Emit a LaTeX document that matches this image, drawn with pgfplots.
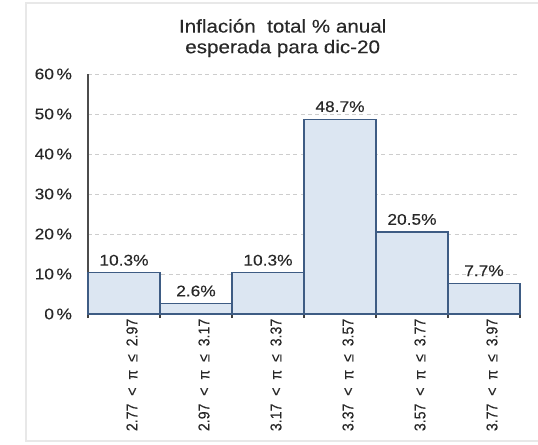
\documentclass[border=0pt]{standalone}
\usepackage{fontspec}
\setmainfont{Liberation Sans}[FakeStretch=1.12, FakeBold=0.25]
\newfontfamily\rotfont{Liberation Sans}[FakeStretch=0.9, FakeBold=0.25]
\usepackage{pgfplots}
\pgfplotsset{compat=1.18, /pgf/number format/assume math mode=true}
\definecolor{barfill}{RGB}{220,230,242}
\definecolor{baredge}{RGB}{62,92,132}
\definecolor{gridc}{RGB}{205,205,205}
\definecolor{txt}{RGB}{40,40,40}
\newcommand{\lab}[2]{{\rotfont #1\enspace<\enspace π\enspace≤\enspace#2}}
\begin{document}
\begin{tikzpicture}
\useasboundingbox (0,0) rectangle (403.5pt,-333pt);
\draw[black!9, line width=0.8pt] (403.5pt,-2.25pt) -- (19.5pt,-2.25pt) -- (19.5pt,-330.75pt) -- (403.5pt,-330.75pt);
\node[align=center, font=\fontsize{13.8}{15.5}\selectfont, text=txt] at (212pt,-28.5pt) {Inflación\ \ total \% anual\\esperada para dic-20};
\begin{axis}[
  at={(66pt,-235.5pt)}, anchor=south west,
  scale only axis, width=324pt, height=180pt,
  xmin=0, xmax=6, ymin=0, ymax=60,
  axis x line*=bottom, axis y line*=left,
  axis line style={black!70, line width=1pt},
  ytick={0,10,...,60},
  yticklabel={\pgfmathprintnumber{\tick}\,\%},
  yticklabel style={font=\fontsize{11.6}{13}\selectfont, text=txt, anchor=east, xshift=-5.5pt},
  ytick style={draw=none},
  ymajorgrids,
  grid style={gridc, dash pattern=on 3pt off 2.5pt, line width=0.6pt},
  xtick={0,1,...,6}, xticklabels={},
  xtick style={black!75, line width=1pt},
  tick align=outside, major tick length=3pt,
  extra x ticks={0.5,1.5,2.5,3.5,4.5,5.5},
  extra x tick labels={
    \lab{2.77}{2.97},
    \lab{2.97}{3.17},
    \lab{3.17}{3.37},
    \lab{3.37}{3.57},
    \lab{3.57}{3.77},
    \lab{3.77}{3.97}},
  extra x tick style={major tick length=0pt,
    tick label style={rotate=90, anchor=east, font=\fontsize{11.8}{13}\selectfont, text=txt, yshift=-6pt}},
  clip=false,
]
\addplot[ybar, bar width=54pt, bar shift=0pt, fill=barfill, draw=baredge, line width=1pt,
  nodes near coords={\pgfmathprintnumber[fixed,fixed zerofill,precision=1]{\pgfplotspointmeta}\%},
  nodes near coords style={font=\fontsize{11.6}{12}\selectfont, text=txt, yshift=1.5pt}]
  coordinates {(0.5,10.3) (1.5,2.6) (2.5,10.3) (3.5,48.7) (4.5,20.5) (5.5,7.7)};
\end{axis}
\end{tikzpicture}
\end{document}
